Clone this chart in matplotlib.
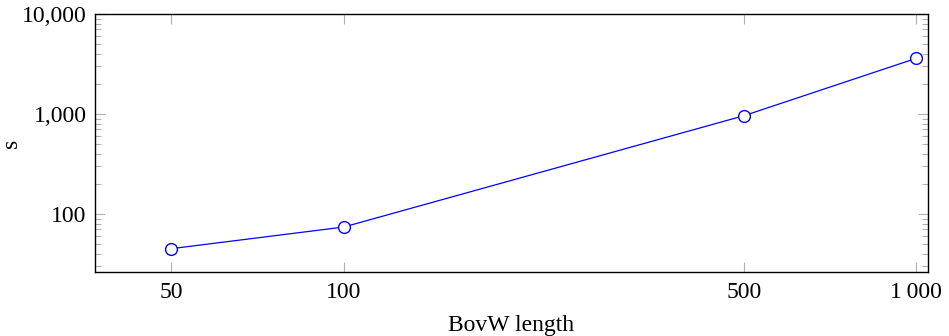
import matplotlib.pyplot as plt
from matplotlib.ticker import FixedLocator, LogLocator, NullFormatter, NullLocator

bovw_length = [50, 100, 500, 1000]
seconds = [45, 74, 960, 3600]
x_tick_labels = ["50", "100", "500", "1\u2009000"]
y_ticks = [100, 1000, 10000]
y_tick_labels = ["100", "1,000", "10,000"]

plt.rcParams['font.family'] = ['Liberation Serif', 'DejaVu Serif']
plt.rcParams['font.size'] = 17

fig = plt.figure(figsize=(9.49, 3.36), dpi=100)
ax = fig.add_axes([95 / 949, 1 - 272 / 336, (928 - 95) / 949, (272 - 14) / 336])

ax.plot(bovw_length, seconds, color='blue', linewidth=0.9, marker='o', markersize=8.5,
        markerfacecolor='white', markeredgecolor='blue', markeredgewidth=1.0)

ax.set_xscale('log')
ax.set_yscale('log')
ax.set_xlim(36.8, 1049)
ax.set_ylim(26.3, 10000)

ax.xaxis.set_major_locator(FixedLocator(bovw_length))
ax.set_xticklabels(x_tick_labels)
ax.xaxis.set_minor_locator(NullLocator())
ax.xaxis.set_minor_formatter(NullFormatter())

ax.yaxis.set_major_locator(FixedLocator(y_ticks))
ax.set_yticklabels(y_tick_labels)
ax.yaxis.set_minor_locator(LogLocator(base=10, subs=range(2, 10)))
ax.yaxis.set_minor_formatter(NullFormatter())

ax.tick_params(which='both', direction='in', top=True, right=True, color='#b0b0b0', width=0.8)
ax.tick_params(which='major', length=7, pad=7)
ax.tick_params(which='minor', length=4)
ax.tick_params(axis='y', pad=6)
ax.tick_params(axis='both', labelcolor='black')

for s in ax.spines.values():
    s.set_linewidth(1.0)

ax.set_xlabel('BovW length', labelpad=9)
ax.set_ylabel('s')
ax.yaxis.set_label_coords(-0.088, 0.5)

fig.savefig('out.png', dpi=100)
